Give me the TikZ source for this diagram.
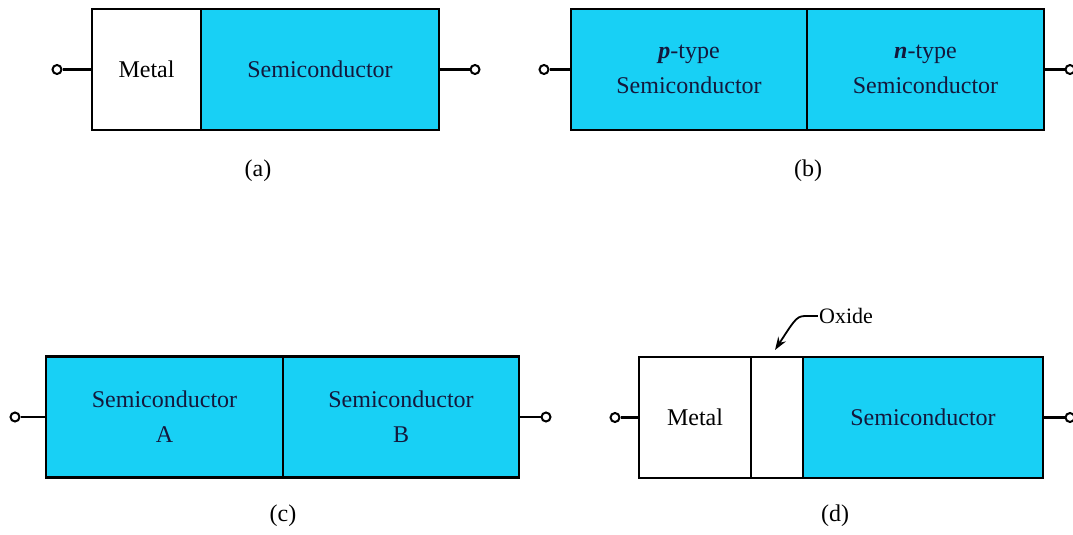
\documentclass[tikz,border=0pt]{standalone}
\usepackage{fontspec}
\setmainfont{Liberation Serif}
\usepackage{tikz}
\usetikzlibrary{arrows.meta, positioning}
\definecolor{semicyan}{RGB}{24,208,245}
\definecolor{textnavy}{RGB}{20,24,60}

\begin{document}
\begin{tikzpicture}[x=1pt, y=-1pt,
  layer/.style={draw, line width=2.8pt, outer sep=0pt, inner sep=0pt,
                minimum height=121pt, align=center,
                font=\fontsize{24}{35}\selectfont},
  metal/.style={layer, fill=white},
  semi/.style={layer, fill=semicyan, text=textnavy},
  term/.style={circle, draw, fill=white, line width=2pt,
               inner sep=0pt, minimum size=9pt},
  lead/.style={line width=2.2pt},
  caption/.style={font=\fontsize{24}{28}\selectfont},
  pointer/.style={-{Stealth[length=13pt, width=9pt]}, line width=1.8pt}
]
\clip (0,0) rectangle (1073,535);

\node[metal, minimum width=109pt] (ma) at (146.5,69.5) {Metal};
\node[semi, minimum width=238pt, right=0pt of ma] (sa) {Semiconductor};
\node[term] (ta1) at (57,69.5) {};
\node[term] (ta2) at (475,69.5) {};
\draw[lead] (ta1) -- (ma.west);
\draw[lead] (sa.east) -- (ta2);
\node[caption] (la) at (258,171) {(a)};

\node[semi, minimum width=236pt] (pb) at (689,69.5) {\textit{\textbf{p}}-type\\Semiconductor};
\node[semi, minimum width=237pt, right=0pt of pb] (nb) {\textit{\textbf{n}}-type\\Semiconductor};
\node[term] (tb1) at (544,69.5) {};
\node[term] (tb2) at (1070,69.5) {};
\draw[lead] (tb1) -- (pb.west);
\draw[lead] (nb.east) -- (tb2);
\node[caption] (lb) at (808,171) {(b)};

\node[semi, minimum width=237pt] (sca) at (164.5,417) {Semiconductor\\A};
\node[semi, minimum width=236pt, right=0pt of sca] (scb) {Semiconductor\\B};
\node[term] (tc1) at (15,417) {};
\node[term] (tc2) at (546,417) {};
\draw[lead] (tc1) -- (sca.west);
\draw[lead] (scb.east) -- (tc2);
\node[caption] (lc) at (283,516) {(c)};

\node[metal, minimum width=112pt] (md) at (695,417.5) {Metal};
\node[metal, minimum width=52pt, right=0pt of md] (od) {};
\node[semi, minimum width=240pt, right=0pt of od] (sd) {Semiconductor};
\node[term] (td1) at (615,417.5) {};
\node[term] (td2) at (1070,417.5) {};
\draw[lead] (td1) -- (md.west);
\draw[lead] (sd.east) -- (td2);
\node[caption] (ld) at (835,516) {(d)};

\node[font=\fontsize{22}{26}\selectfont, inner sep=1pt] (ox) at (846,316) {Oxide};
\coordinate (oxtip) at (775,350);
\draw[pointer] (ox.west) -- ++(-10,0) .. controls (797,316) .. (oxtip);

\end{tikzpicture}
\end{document}
